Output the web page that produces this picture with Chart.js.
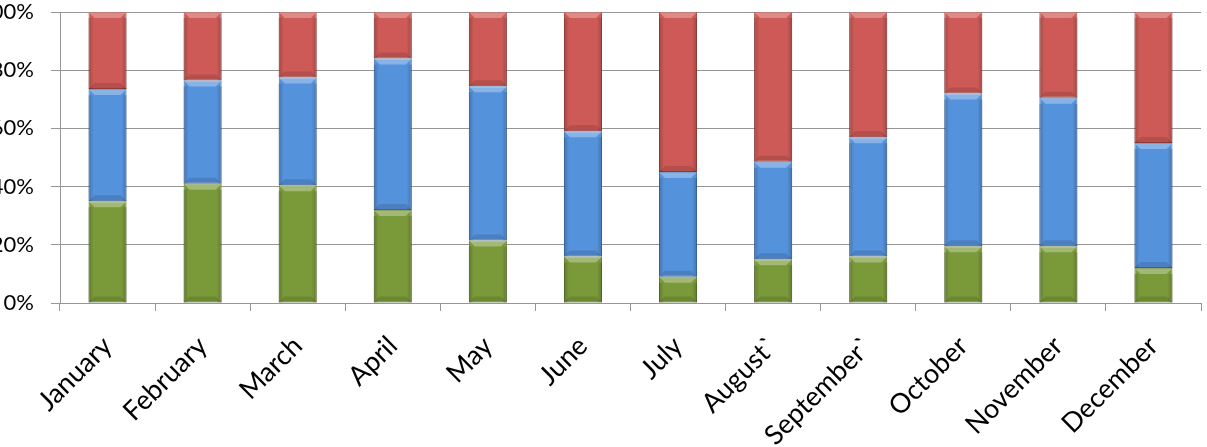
<!DOCTYPE html>
<html><head><meta charset="utf-8">
<script src="https://cdn.jsdelivr.net/npm/chart.js@4"></script>
<style>html,body{margin:0;padding:0;background:#fff;overflow:hidden}#wrap{position:relative;width:1207px;height:447px}</style>
</head><body><div id="wrap"><canvas id="c"></canvas></div>
<script>
const categories = ["January","February","March","April","May","June","July","August`","September`","October","November","December"];
const greenValues = [35, 41, 40.5, 32, 21.5, 16, 9, 15, 16, 19.5, 19.5, 12];
const blueValues  = [38.5, 35.5, 37, 52, 53, 43, 36, 33.5, 41, 52.5, 51, 43];
const redValues   = [26.5, 23.5, 22.5, 16, 25.5, 41, 55, 51.5, 43, 28, 29.5, 45];
const yTickValues = [0, 20, 40, 60, 80, 100];

const FONT = "Lato, 'Open Sans', sans-serif";
const GRID = '#969696';

const bevel = {
  id: 'bevel',
  afterDatasetsDraw(chart) {
    const ctx = chart.ctx;
    chart.data.datasets.forEach((ds, i) => {
      const meta = chart.getDatasetMeta(i);
      meta.data.forEach(el => {
        const p = el.getProps(['x','y','base','width'], true);
        const l = p.x - p.width/2, r = p.x + p.width/2;
        const t = Math.min(p.y, p.base), b = Math.max(p.y, p.base);
        const h = b - t; if (h <= 0) return;
        const bv = Math.min(6, h/2);
        ctx.save();
        ctx.fillStyle = 'rgba(255,255,255,0.30)';
        ctx.beginPath(); ctx.moveTo(l, t); ctx.lineTo(r, t); ctx.lineTo(r-bv, t+bv); ctx.lineTo(l+bv, t+bv); ctx.closePath(); ctx.fill();
        const g = ctx.createLinearGradient(l, 0, r, 0);
        g.addColorStop(0, 'rgba(0,0,0,0.22)'); g.addColorStop(0.13, 'rgba(0,0,0,0)');
        g.addColorStop(0.87, 'rgba(0,0,0,0)'); g.addColorStop(1, 'rgba(0,0,0,0.22)');
        ctx.fillStyle = g; ctx.fillRect(l, t+bv, p.width, h-bv);
        ctx.fillStyle = 'rgba(0,0,0,0.12)';
        ctx.beginPath(); ctx.moveTo(l, b); ctx.lineTo(r, b); ctx.lineTo(r-bv, b-bv); ctx.lineTo(l+bv, b-bv); ctx.closePath(); ctx.fill();
        ctx.restore();
      });
    });
  }
};

new Chart(document.getElementById('c'), {
  type: 'bar',
  data: {
    labels: categories,
    datasets: [
      { label: 'Green', data: greenValues, backgroundColor: '#7a9a3a', borderColor: '#5f7a2c', borderWidth: 1, borderSkipped: false },
      { label: 'Blue', data: blueValues, backgroundColor: '#5592dc', borderColor: '#3d72b8', borderWidth: 1, borderSkipped: false },
      { label: 'Red', data: redValues, backgroundColor: '#cd5a56', borderColor: '#a8423f', borderWidth: 1, borderSkipped: false }
    ]
  },
  options: {
    responsive: true, maintainAspectRatio: false, animation: false,
    layout: { padding: { right: 6, top: 0, left: 0, bottom: 0 } },
    plugins: { legend: { display: false }, tooltip: { enabled: false } },
    datasets: { bar: { categoryPercentage: 1, barPercentage: 0.4 } },
    scales: {
      x: {
        stacked: true,
        grid: { offset: true, drawOnChartArea: false, drawTicks: true, tickLength: 8, color: GRID },
        border: { color: GRID },
        ticks: { minRotation: 45, maxRotation: 45, color: '#000', font: { family: FONT, size: 27 }, padding: 19 },
        afterFit(s) { s.height = 144; }
      },
      y: {
        stacked: true, min: 0, max: 100,
        afterBuildTicks(s) { s.ticks = yTickValues.map(v => ({ value: v })); },
        grid: { color: GRID, tickLength: 9 },
        border: { color: GRID },
        ticks: { color: '#000', font: { family: FONT, size: 22 }, padding: 17, callback: v => v + '%' },
        afterFit(s) { s.width = 60; s.paddingTop = 12; s.paddingBottom = 0; }
      }
    }
  },
  plugins: [bevel]
});
</script></body></html>
